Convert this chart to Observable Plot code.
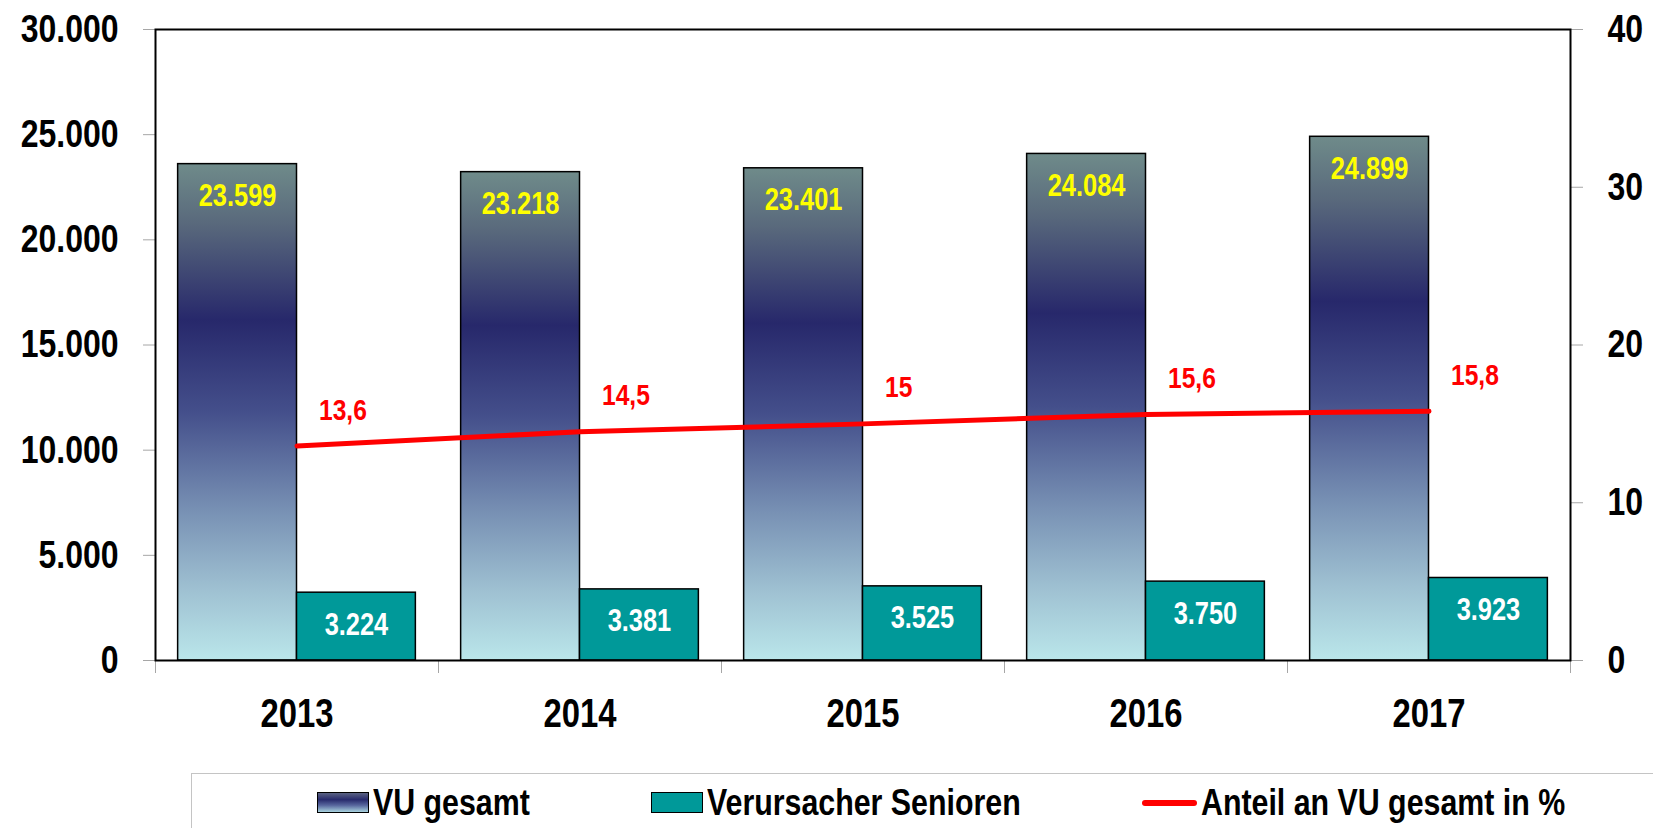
<!DOCTYPE html>
<html>
<head>
<meta charset="utf-8">
<script src="https://cdn.jsdelivr.net/npm/d3@7"></script>
<script src="https://cdn.jsdelivr.net/npm/@observablehq/plot@0.6"></script>
<style>
  html, body { margin: 0; padding: 0; background: #fff; overflow: hidden; }
  #wrap { position: relative; width: 1653px; height: 828px; }
  .nf { font-family: "Liberation Sans", Arial, sans-serif; font-weight: bold; }
  #legend {
    position: absolute; left: 191px; top: 773px; width: 1500px; height: 90px;
    border: 1px solid #c4c4c4; box-sizing: border-box;
    display: flex; justify-content: center; align-items: flex-start; gap: 121px;
    padding-top: 10px; white-space: nowrap;
  }
  .item { display: flex; align-items: center; font-size: 37px; line-height: 37px; color: #000; }
  .sw { width: 52px; height: 21px; box-sizing: border-box; border: 1.5px solid #000; margin-right: 4px; flex: none; }
  .sw.vu { background: linear-gradient(#5a6282, #272a6c 35%, #58679e 65%, #a8d2de); }
  .sw.sen { background: #009999; }
  .sw.line { width: 55px; height: 6px; border: none; border-radius: 3px; background: #ff0000; }
  .lt { display: inline-block; white-space: nowrap; }
  .lt .inner { display: inline-block; transform-origin: 0 50%; }
</style>
</head>
<body>
<div id="wrap" class="nf">
  <div id="chart"></div>
  <div id="legend"></div>
</div>
<script>
const years = [2013, 2014, 2015, 2016, 2017];
const vuGesamt = [23599, 23218, 23401, 24084, 24899];
const senioren = [3224, 3381, 3525, 3750, 3923];
const anteil = [13.6, 14.5, 15, 15.6, 15.8];
const leftTicks = [0, 5000, 10000, 15000, 20000, 25000, 30000];
const rightTicks = [0, 10, 20, 30, 40];
const seriesNames = ["VU gesamt", "Verursacher Senioren", "Anteil an VU gesamt in %"];

const leftMax = 30000, rightMax = 40;
const ratio = leftMax / rightMax;
const barHalf = 0.42;
const NARROW = 0.82; // horizontal condensing to imitate a narrow bold face

const de = d3.formatLocale({decimal: ",", thousands: ".", grouping: [3], currency: ["", "€"]});
const fmtInt = de.format(",d");
const fmtPct = v => String(v).replace(".", ",");

const rows = years.map((year, i) => ({year, vu: vuGesamt[i], sen: senioren[i], pct: anteil[i]}));
const bounds = [years[0] - 0.5, ...years.map(y => y + 0.5)];

const FONT = '"Liberation Sans", Arial, sans-serif';

const chart = Plot.plot({
  width: 1653,
  height: 772,
  marginLeft: 155,
  marginRight: 83,
  marginTop: 29,
  marginBottom: 112,
  style: {fontFamily: FONT, fontWeight: "bold", background: "white", overflow: "visible"},
  x: {type: "linear", domain: [years[0] - 0.5, years[years.length - 1] + 0.5]},
  y: {domain: [0, leftMax]},
  marks: [
    Plot.rectY(rows, {x1: d => d.year - barHalf, x2: d => d.year, y1: 0, y2: "vu",
      fill: "url(#vuGrad)", stroke: "black", strokeWidth: 1.5}),
    Plot.rectY(rows, {x1: d => d.year, x2: d => d.year + barHalf, y1: 0, y2: "sen",
      fill: "#009999", stroke: "black", strokeWidth: 1.5}),
    Plot.text(rows, {x: d => d.year - barHalf / 2, y: "vu", text: d => fmtInt(d.vu),
      dy: 32, fill: "#ffff00", fontSize: 31, fontWeight: "bold"}),
    Plot.text(rows, {x: d => d.year + barHalf / 2, y: "sen", text: d => fmtInt(d.sen),
      dy: 32, fill: "white", fontSize: 31, fontWeight: "bold"}),
    Plot.lineY(rows, {x: "year", y: d => d.pct * ratio, stroke: "#ff0000", strokeWidth: 5,
      strokeLinecap: "round", strokeLinejoin: "round"}),
    Plot.text(rows, {x: "year", y: d => d.pct * ratio, text: d => fmtPct(d.pct),
      textAnchor: "start", dx: 22, dy: -36, fill: "#ff0000", fontSize: 30, fontWeight: "bold"}),
    Plot.axisY({anchor: "left", ticks: leftTicks, tickFormat: fmtInt, tickSize: 12, tickPadding: 25,
      label: null, stroke: "#a6a6a6", fill: "black", fontSize: 39, fontWeight: "bold"}),
    Plot.axisY({anchor: "right", ticks: rightTicks.map(v => v * ratio), tickFormat: v => String(v / ratio),
      label: null, tickSize: 12, tickPadding: 25, stroke: "#a6a6a6", fill: "black", fontSize: 39, fontWeight: "bold"}),
    Plot.axisX({ticks: bounds, tickFormat: () => "", label: null, tickSize: 13, stroke: "#a6a6a6"}),
    Plot.axisX({ticks: years, tickFormat: d => String(d), label: null, tickSize: 0, tickPadding: 38,
      fill: "black", fontSize: 40, fontWeight: "bold"}),
    Plot.frame({stroke: "black", strokeWidth: 2})
  ]
});

// gradient definition for the "VU gesamt" bars
const defs = d3.select(chart).insert("defs", ":first-child");
const g = defs.append("linearGradient").attr("id", "vuGrad")
  .attr("x1", 0).attr("y1", 0).attr("x2", 0).attr("y2", 1);
[[0, "#6f8b8a"], [0.12, "#59697c"], [0.315, "#27286b"], [0.5, "#444f8b"],
 [0.7, "#7891b4"], [0.86, "#9fc1d2"], [1, "#bae6ea"]]
  .forEach(([o, c]) => g.append("stop").attr("offset", o).attr("stop-color", c));

document.getElementById("chart").appendChild(chart);

// condense every SVG text horizontally (narrow bold look)
chart.querySelectorAll("text").forEach(t => {
  const w = t.getComputedTextLength();
  if (w > 0) {
    t.setAttribute("textLength", (w * NARROW).toFixed(2));
    t.setAttribute("lengthAdjust", "spacingAndGlyphs");
  }
});

// legend
const legend = document.getElementById("legend");
const kinds = ["vu", "sen", "line"];
seriesNames.forEach((name, i) => {
  const item = document.createElement("div");
  item.className = "item";
  const sw = document.createElement("span");
  sw.className = "sw " + kinds[i];
  const lt = document.createElement("span");
  lt.className = "lt";
  const inner = document.createElement("span");
  inner.className = "inner";
  inner.textContent = name;
  lt.appendChild(inner);
  item.appendChild(sw);
  item.appendChild(lt);
  legend.appendChild(item);
  const w = inner.getBoundingClientRect().width;
  inner.style.transform = `scaleX(${NARROW})`;
  lt.style.width = (w * NARROW) + "px";
});
</script>
</body>
</html>
